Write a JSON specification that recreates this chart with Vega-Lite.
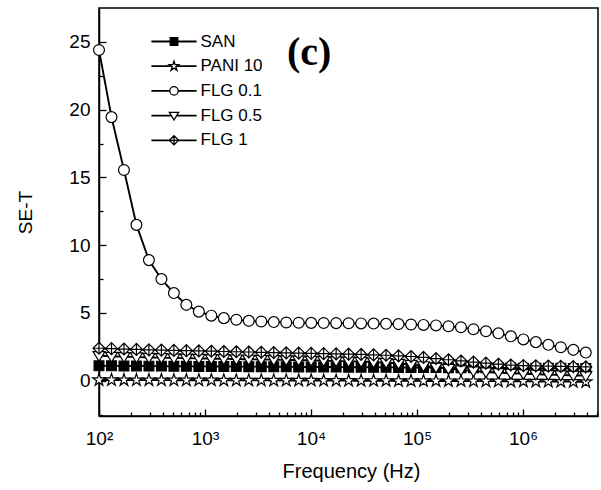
{
  "$schema": "https://vega.github.io/schema/vega-lite/v6.json",
  "width": 499,
  "height": 408,
  "autosize": {"type": "none"},
  "padding": {"left": 99, "top": 8, "right": 3, "bottom": 74},
  "background": "white",
  "config": {"view": {"stroke": "black", "strokeWidth": 1.5}, "font": "Liberation Sans"},
  "data": {"values": [
    {"s":"SAN","f":100,"v":1.1},{"s":"SAN","f":131.2,"v":1.1},{"s":"SAN","f":172,"v":1.09},{"s":"SAN","f":225.6,"v":1.09},{"s":"SAN","f":295.8,"v":1.08},{"s":"SAN","f":388,"v":1.08},{"s":"SAN","f":508.8,"v":1.07},{"s":"SAN","f":667.3,"v":1.07},{"s":"SAN","f":875,"v":1.06},{"s":"SAN","f":1147.6,"v":1.06},
    {"s":"SAN","f":1505,"v":1.05},{"s":"SAN","f":1974,"v":1.05},{"s":"SAN","f":2588,"v":1.04},{"s":"SAN","f":3395,"v":1.04},{"s":"SAN","f":4452,"v":1.03},{"s":"SAN","f":5839,"v":1.03},{"s":"SAN","f":7656,"v":1.02},{"s":"SAN","f":10041,"v":1.02},{"s":"SAN","f":13166,"v":1.01},{"s":"SAN","f":17270,"v":1.01},
    {"s":"SAN","f":22646,"v":1.0},{"s":"SAN","f":29700,"v":1.0},{"s":"SAN","f":38950,"v":0.99},{"s":"SAN","f":51080,"v":0.99},{"s":"SAN","f":66990,"v":0.98},{"s":"SAN","f":87850,"v":0.98},{"s":"SAN","f":115200,"v":0.97},{"s":"SAN","f":151100,"v":0.97},{"s":"SAN","f":198200,"v":0.96},{"s":"SAN","f":259900,"v":0.96},
    {"s":"SAN","f":340800,"v":0.95},{"s":"SAN","f":447000,"v":0.95},{"s":"SAN","f":586100,"v":0.94},{"s":"SAN","f":768700,"v":0.94},{"s":"SAN","f":1008000,"v":0.93},{"s":"SAN","f":1322000,"v":0.93},{"s":"SAN","f":1734000,"v":0.92},{"s":"SAN","f":2274000,"v":0.92},{"s":"SAN","f":2982000,"v":0.91},{"s":"SAN","f":3911000,"v":0.9},

    {"s":"PANI 10","f":100,"v":0.06},{"s":"PANI 10","f":131.2,"v":0.06},{"s":"PANI 10","f":172,"v":0.05},{"s":"PANI 10","f":225.6,"v":0.05},{"s":"PANI 10","f":295.8,"v":0.05},{"s":"PANI 10","f":388,"v":0.05},{"s":"PANI 10","f":508.8,"v":0.04},{"s":"PANI 10","f":667.3,"v":0.04},{"s":"PANI 10","f":875,"v":0.04},{"s":"PANI 10","f":1147.6,"v":0.04},
    {"s":"PANI 10","f":1505,"v":0.03},{"s":"PANI 10","f":1974,"v":0.03},{"s":"PANI 10","f":2588,"v":0.03},{"s":"PANI 10","f":3395,"v":0.03},{"s":"PANI 10","f":4452,"v":0.02},{"s":"PANI 10","f":5839,"v":0.02},{"s":"PANI 10","f":7656,"v":0.02},{"s":"PANI 10","f":10041,"v":0.02},{"s":"PANI 10","f":13166,"v":0.01},{"s":"PANI 10","f":17270,"v":0.01},
    {"s":"PANI 10","f":22646,"v":0.01},{"s":"PANI 10","f":29700,"v":0},{"s":"PANI 10","f":38950,"v":0},{"s":"PANI 10","f":51080,"v":0},{"s":"PANI 10","f":66990,"v":-0.01},{"s":"PANI 10","f":87850,"v":-0.01},{"s":"PANI 10","f":115200,"v":-0.01},{"s":"PANI 10","f":151100,"v":-0.02},{"s":"PANI 10","f":198200,"v":-0.02},{"s":"PANI 10","f":259900,"v":-0.02},
    {"s":"PANI 10","f":340800,"v":-0.03},{"s":"PANI 10","f":447000,"v":-0.03},{"s":"PANI 10","f":586100,"v":-0.03},{"s":"PANI 10","f":768700,"v":-0.04},{"s":"PANI 10","f":1008000,"v":-0.04},{"s":"PANI 10","f":1322000,"v":-0.05},{"s":"PANI 10","f":1734000,"v":-0.05},{"s":"PANI 10","f":2274000,"v":-0.06},{"s":"PANI 10","f":2982000,"v":-0.07},{"s":"PANI 10","f":3911000,"v":-0.08},

    {"s":"FLG 0.1","f":100,"v":24.4},{"s":"FLG 0.1","f":131.2,"v":19.45},{"s":"FLG 0.1","f":172,"v":15.55},{"s":"FLG 0.1","f":225.6,"v":11.5},{"s":"FLG 0.1","f":295.8,"v":8.9},{"s":"FLG 0.1","f":388,"v":7.5},{"s":"FLG 0.1","f":508.8,"v":6.47},{"s":"FLG 0.1","f":667.3,"v":5.6},{"s":"FLG 0.1","f":875,"v":5.1},{"s":"FLG 0.1","f":1147.6,"v":4.8},
    {"s":"FLG 0.1","f":1505,"v":4.62},{"s":"FLG 0.1","f":1974,"v":4.5},{"s":"FLG 0.1","f":2588,"v":4.42},{"s":"FLG 0.1","f":3395,"v":4.37},{"s":"FLG 0.1","f":4452,"v":4.33},{"s":"FLG 0.1","f":5839,"v":4.3},{"s":"FLG 0.1","f":7656,"v":4.28},{"s":"FLG 0.1","f":10041,"v":4.27},{"s":"FLG 0.1","f":13166,"v":4.26},{"s":"FLG 0.1","f":17270,"v":4.25},
    {"s":"FLG 0.1","f":22646,"v":4.24},{"s":"FLG 0.1","f":29700,"v":4.23},{"s":"FLG 0.1","f":38950,"v":4.22},{"s":"FLG 0.1","f":51080,"v":4.2},{"s":"FLG 0.1","f":66990,"v":4.18},{"s":"FLG 0.1","f":87850,"v":4.15},{"s":"FLG 0.1","f":115200,"v":4.12},{"s":"FLG 0.1","f":151100,"v":4.08},{"s":"FLG 0.1","f":198200,"v":4.02},{"s":"FLG 0.1","f":259900,"v":3.95},
    {"s":"FLG 0.1","f":340800,"v":3.8},{"s":"FLG 0.1","f":447000,"v":3.65},{"s":"FLG 0.1","f":586100,"v":3.5},{"s":"FLG 0.1","f":768700,"v":3.28},{"s":"FLG 0.1","f":1008000,"v":3.05},{"s":"FLG 0.1","f":1322000,"v":2.85},{"s":"FLG 0.1","f":1734000,"v":2.65},{"s":"FLG 0.1","f":2274000,"v":2.47},{"s":"FLG 0.1","f":2982000,"v":2.28},{"s":"FLG 0.1","f":3911000,"v":2.08},

    {"s":"FLG 0.5","f":100,"v":1.85},{"s":"FLG 0.5","f":131.2,"v":1.8},{"s":"FLG 0.5","f":172,"v":1.78},{"s":"FLG 0.5","f":225.6,"v":1.75},{"s":"FLG 0.5","f":295.8,"v":1.72},{"s":"FLG 0.5","f":388,"v":1.7},{"s":"FLG 0.5","f":508.8,"v":1.68},{"s":"FLG 0.5","f":667.3,"v":1.66},{"s":"FLG 0.5","f":875,"v":1.65},{"s":"FLG 0.5","f":1147.6,"v":1.63},
    {"s":"FLG 0.5","f":1505,"v":1.62},{"s":"FLG 0.5","f":1974,"v":1.6},{"s":"FLG 0.5","f":2588,"v":1.58},{"s":"FLG 0.5","f":3395,"v":1.57},{"s":"FLG 0.5","f":4452,"v":1.55},{"s":"FLG 0.5","f":5839,"v":1.54},{"s":"FLG 0.5","f":7656,"v":1.52},{"s":"FLG 0.5","f":10041,"v":1.5},{"s":"FLG 0.5","f":13166,"v":1.48},{"s":"FLG 0.5","f":17270,"v":1.46},
    {"s":"FLG 0.5","f":22646,"v":1.44},{"s":"FLG 0.5","f":29700,"v":1.42},{"s":"FLG 0.5","f":38950,"v":1.38},{"s":"FLG 0.5","f":51080,"v":1.34},{"s":"FLG 0.5","f":66990,"v":1.28},{"s":"FLG 0.5","f":87850,"v":1.2},{"s":"FLG 0.5","f":115200,"v":1.1},{"s":"FLG 0.5","f":151100,"v":1.0},{"s":"FLG 0.5","f":198200,"v":0.9},{"s":"FLG 0.5","f":259900,"v":0.8},
    {"s":"FLG 0.5","f":340800,"v":0.72},{"s":"FLG 0.5","f":447000,"v":0.65},{"s":"FLG 0.5","f":586100,"v":0.6},{"s":"FLG 0.5","f":768700,"v":0.55},{"s":"FLG 0.5","f":1008000,"v":0.52},{"s":"FLG 0.5","f":1322000,"v":0.48},{"s":"FLG 0.5","f":1734000,"v":0.45},{"s":"FLG 0.5","f":2274000,"v":0.42},{"s":"FLG 0.5","f":2982000,"v":0.4},{"s":"FLG 0.5","f":3911000,"v":0.37},

    {"s":"FLG 1","f":100,"v":2.4},{"s":"FLG 1","f":131.2,"v":2.37},{"s":"FLG 1","f":172,"v":2.34},{"s":"FLG 1","f":225.6,"v":2.31},{"s":"FLG 1","f":295.8,"v":2.28},{"s":"FLG 1","f":388,"v":2.26},{"s":"FLG 1","f":508.8,"v":2.24},{"s":"FLG 1","f":667.3,"v":2.22},{"s":"FLG 1","f":875,"v":2.2},{"s":"FLG 1","f":1147.6,"v":2.18},
    {"s":"FLG 1","f":1505,"v":2.16},{"s":"FLG 1","f":1974,"v":2.14},{"s":"FLG 1","f":2588,"v":2.12},{"s":"FLG 1","f":3395,"v":2.1},{"s":"FLG 1","f":4452,"v":2.08},{"s":"FLG 1","f":5839,"v":2.06},{"s":"FLG 1","f":7656,"v":2.04},{"s":"FLG 1","f":10041,"v":2.02},{"s":"FLG 1","f":13166,"v":2.0},{"s":"FLG 1","f":17270,"v":1.98},
    {"s":"FLG 1","f":22646,"v":1.96},{"s":"FLG 1","f":29700,"v":1.94},{"s":"FLG 1","f":38950,"v":1.91},{"s":"FLG 1","f":51080,"v":1.88},{"s":"FLG 1","f":66990,"v":1.84},{"s":"FLG 1","f":87850,"v":1.79},{"s":"FLG 1","f":115200,"v":1.72},{"s":"FLG 1","f":151100,"v":1.64},{"s":"FLG 1","f":198200,"v":1.55},{"s":"FLG 1","f":259900,"v":1.46},
    {"s":"FLG 1","f":340800,"v":1.38},{"s":"FLG 1","f":447000,"v":1.3},{"s":"FLG 1","f":586100,"v":1.22},{"s":"FLG 1","f":768700,"v":1.16},{"s":"FLG 1","f":1008000,"v":1.12},{"s":"FLG 1","f":1322000,"v":1.1},{"s":"FLG 1","f":1734000,"v":1.08},{"s":"FLG 1","f":2274000,"v":1.06},{"s":"FLG 1","f":2982000,"v":1.04},{"s":"FLG 1","f":3911000,"v":1.02}
  ]},
  "layer": [
    {
      "mark": {"type": "line", "color": "black", "strokeWidth": 1.9},
      "encoding": {
        "x": {
          "field": "f", "type": "quantitative",
          "scale": {"type": "log", "domain": [100, 5100000], "nice": false},
          "axis": {
            "values": [100,200,300,400,500,600,700,800,900,1000,2000,3000,4000,5000,6000,7000,8000,9000,10000,20000,30000,40000,50000,60000,70000,80000,90000,100000,200000,300000,400000,500000,600000,700000,800000,900000,1000000,2000000,3000000,4000000,5000000],
            "tickCount": 100,
            "labelExpr": "datum.value == 100 ? '10²' : datum.value == 1000 ? '10³' : datum.value == 10000 ? '10⁴' : datum.value == 100000 ? '10⁵' : datum.value == 1000000 ? '10⁶' : ''",
            "tickSize": {"condition": {"test": "datum.value == 100 || datum.value == 1000 || datum.value == 10000 || datum.value == 100000 || datum.value == 1000000", "value": -7}, "value": -4},
            "tickColor": "black", "tickWidth": 1.3,
            "domainColor": "black", "domainWidth": 1.5,
            "grid": false,
            "labelFont": "Liberation Sans", "labelFontSize": 19, "labelColor": "black",
            "labelPadding": 20, "labelFlush": false, "labelOverlap": false,
            "title": "Frequency (Hz)", "titleFont": "Liberation Sans", "titleFontSize": 20, "titleFontWeight": "normal", "titleColor": "black",
            "titleX": 252, "titleY": 61, "titleBaseline": "alphabetic"
          }
        },
        "y": {
          "field": "v", "type": "quantitative",
          "scale": {"domain": [-2.6, 27.5], "nice": false, "zero": false},
          "axis": {
            "values": [-2.5, 0, 2.5, 5, 7.5, 10, 12.5, 15, 17.5, 20, 22.5, 25],
            "tickCount": 100,
            "labelExpr": "datum.value == 0 ? '0' : datum.value == 5 ? '5' : datum.value == 10 ? '10' : datum.value == 15 ? '15' : datum.value == 20 ? '20' : datum.value == 25 ? '25' : ''",
            "tickSize": {"condition": {"test": "datum.value == 0 || datum.value == 5 || datum.value == 10 || datum.value == 15 || datum.value == 20 || datum.value == 25", "value": -7}, "value": -4},
            "tickColor": "black", "tickWidth": 1.3,
            "domainColor": "black", "domainWidth": 1.5,
            "grid": false,
            "labelFont": "Liberation Sans", "labelFontSize": 19, "labelColor": "black",
            "labelPadding": 16, "labelOverlap": false,
            "title": "SE-T", "titleFont": "Liberation Sans", "titleFontSize": 19, "titleFontWeight": "normal", "titleColor": "black",
            "titleX": -74, "titleY": 204, "titleBaseline": "middle"
          }
        },
        "strokeDash": {
          "field": "s", "type": "nominal",
          "scale": {"range": [[1, 0], [1, 0], [1, 0], [1, 0], [1, 0]]},
          "legend": {
            "orient": "none", "legendX": 66.5, "legendY": 25, "zindex": 0,
            "title": null,
            "labelExpr": "''",
            "labelFont": "Liberation Sans", "labelFontSize": 17,
            "symbolType": "M-5.4,0H5.4", "symbolSize": 70, "symbolStrokeWidth": 1.8,
            "rowPadding": 6.7, "labelOffset": 18
          }
        }
      }
    },
    {
      "mark": {"type": "point", "filled": true, "stroke": "black", "strokeWidth": 1.2, "opacity": 1, "size": 118},
      "encoding": {
        "x": {"field": "f", "type": "quantitative"},
        "y": {"field": "v", "type": "quantitative"},
        "shape": {
          "field": "s", "type": "nominal",
          "scale": {
            "domain": ["SAN", "PANI 10", "FLG 0.1", "FLG 0.5", "FLG 1"],
            "range": [
              "M-0.9,-0.9H0.9V0.9H-0.9Z",
              "M0,-1.2L0.269,-0.371L1.141,-0.371L0.436,0.142L0.705,0.971L0,0.458L-0.705,0.971L-0.436,0.142L-1.141,-0.371L-0.269,-0.371Z",
              "M1,0A1,1,0,1,1,-1,0A1,1,0,1,1,1,0Z",
              "M-1.1,-0.75H1.1L0,1.05Z",
              "M0,-1.1L1.1,0L0,1.1L-1.1,0ZM0,-1.1V1.1M-1.1,0H1.1"
            ]
          },
          "legend": {
            "orient": "none", "legendX": 66.5, "legendY": 25, "zindex": 1,
            "title": null,
            "labelFont": "Liberation Sans", "labelFontSize": 17, "labelColor": "black",
            "symbolSize": 70, "symbolStrokeWidth": 1.3,
            "rowPadding": 6.7, "labelOffset": 18
          }
        },
        "color": {
          "field": "s", "type": "nominal",
          "scale": {
            "domain": ["SAN", "PANI 10", "FLG 0.1", "FLG 0.5", "FLG 1"],
            "range": ["black", "white", "white", "white", "white"]
          }
        }
      }
    },
    {
      "data": {"values": [{"label": "(c)"}]},
      "mark": {"type": "text", "font": "Liberation Serif", "fontSize": 40, "fontWeight": "bold", "align": "left", "baseline": "alphabetic", "color": "black"},
      "encoding": {
        "x": {"datum": 5940, "type": "quantitative"},
        "y": {"datum": 23.3, "type": "quantitative"},
        "text": {"field": "label"}
      }
    }
  ]
}
